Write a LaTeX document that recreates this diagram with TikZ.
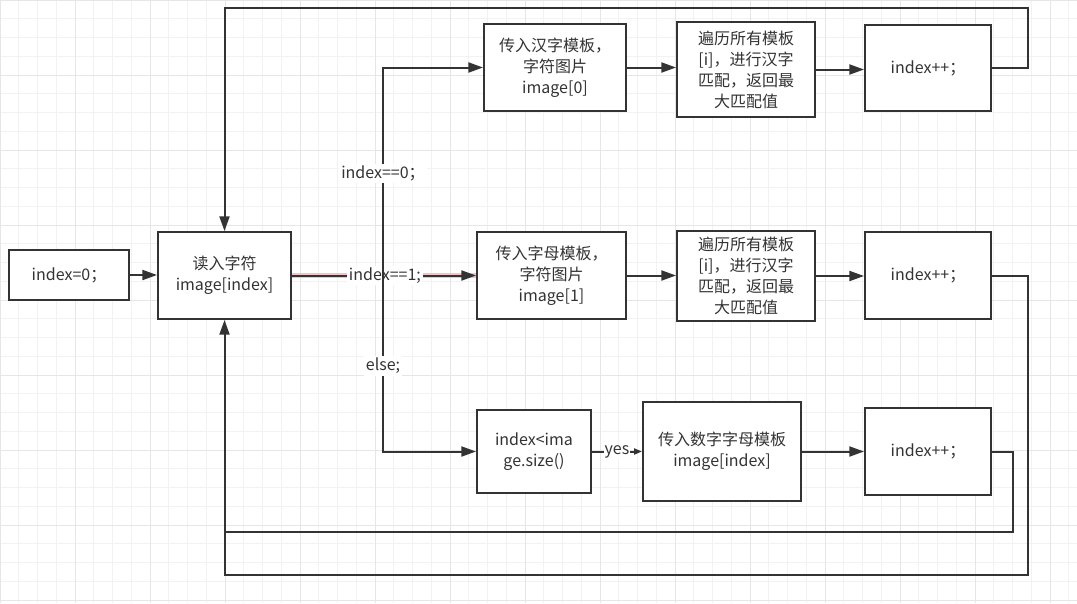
\documentclass[tikz,border=0pt]{standalone}
\usepackage{fontspec}
\setmainfont{Noto Sans CJK SC}
\usetikzlibrary{arrows.meta}
\definecolor{ink}{HTML}{333333}
\definecolor{gridminor}{HTML}{F2F2F2}
\definecolor{gridmajor}{HTML}{E6E6E6}
\definecolor{glow}{HTML}{F2C4C4}
\begin{document}
\begin{tikzpicture}[x=0.75pt,y=-0.75pt,
  box/.style={draw=ink, line width=1.5pt, fill=white, inner sep=0pt, align=center, text=ink, font=\fontsize{12pt}{15.75pt}\selectfont},
  lab/.style={fill=white, inner sep=1.5pt, text=ink, font=\fontsize{12pt}{15pt}\selectfont},
  conn/.style={draw=ink, line width=1.5pt},
  arr/.style={conn, -{Triangle[length=11pt,width=7.5pt]}},
  smallarr/.style={conn, -{Triangle[length=6pt,width=4.5pt]}}]
\useasboundingbox (0,0) rectangle (1077,603);
\fill[white] (0,0) rectangle (1077,603);
% grid
\foreach \i in {0,...,57} {\draw[gridminor, line width=0.75pt] (\i*18.75,0) -- (\i*18.75,603);}
\foreach \i in {0,...,32} {\draw[gridminor, line width=0.75pt] (0,\i*18.75) -- (1077,\i*18.75);}
\foreach \i in {0,...,14} {\draw[gridmajor, line width=0.75pt] (\i*75,0) -- (\i*75,603);}
\foreach \i in {0,...,8} {\draw[gridmajor, line width=0.75pt] (0,\i*75) -- (1077,\i*75);}

% nodes
\node[box, minimum width=90pt, minimum height=37.5pt] (n0) at (69,275) {index=0；};
\node[box, minimum width=99.75pt, minimum height=65.25pt] (read) at (224.5,275.5) {读入字符\\image[index]};
\node[box, minimum width=106.5pt, minimum height=65.25pt] (t1) at (555,67.5) {传入汉字模板，\\字符图片\\image[0]};
\node[box, minimum width=103.5pt, minimum height=71.25pt] (t2) at (746,69.5) {遍历所有模板\\{[i]}，进行汉字\\匹配，返回最\\大匹配值};
\node[box, minimum width=94.5pt, minimum height=64.5pt] (t3) at (928,68) {index++；};
\node[box, minimum width=111.75pt, minimum height=65.25pt] (m1) at (551.5,275.5) {传入字母模板，\\字符图片\\image[1]};
\node[box, minimum width=103.5pt, minimum height=67.5pt] (m2) at (746,276) {遍历所有模板\\{[i]}，进行汉字\\匹配，返回最\\大匹配值};
\node[box, minimum width=94.5pt, minimum height=65.25pt] (m3) at (928,275.5) {index++；};
\node[box, minimum width=85.5pt, minimum height=62.25pt] (b1) at (534,451.5) {index<ima\\ge.size()};
\node[box, minimum width=118.5pt, minimum height=74.25pt] (b2) at (722,451.5) {传入数字字母模板\\image[index]};
\node[box, minimum width=94.5pt, minimum height=65.25pt] (b3) at (928,451.5) {index++；};

\coordinate (br) at (383,276);
\coordinate (c1) at (1028,8);
\coordinate (c2) at (1028,575);
\coordinate (c3) at (1013,532);

% connectors
\draw[arr] (n0.east) -- (n0.east -| read.west);
\draw[glow, line width=3.5pt] (read.east) -- (m1.west);
\draw[arr] (read.east) -- node[lab, pos=0.505] {index==1;} (m1.west);
\draw[arr] (br) |- node[lab, pos=0.245] {index==0；} (t1.west);
\draw[arr] (br) |- node[lab, pos=0.256] {else;} (b1.west);
\draw[arr] (t1.east) -- (t1.east -| t2.west);
\draw[arr] (t2.west -| t2.east) -- (t2.west -| t3.west);
\draw[arr] (m1.east) -- (m1.east -| m2.west);
\draw[arr] (m2.east) -- (m2.east -| m3.west);
\draw[smallarr] (b1.east) -- node[lab, inner sep=0.5pt] {yes} (b1.east -| b2.west);
\draw[arr] (b2.east) -- (b2.east -| b3.west);
% loops
\draw[arr] (t3.east) -| (c1) -| (read.north);
\draw[arr] (m3.east) -| (c2) -| (read.south);
\draw[conn] (b3.east) -| (c3) -- (c3 -| read.south);
\end{tikzpicture}
\end{document}
